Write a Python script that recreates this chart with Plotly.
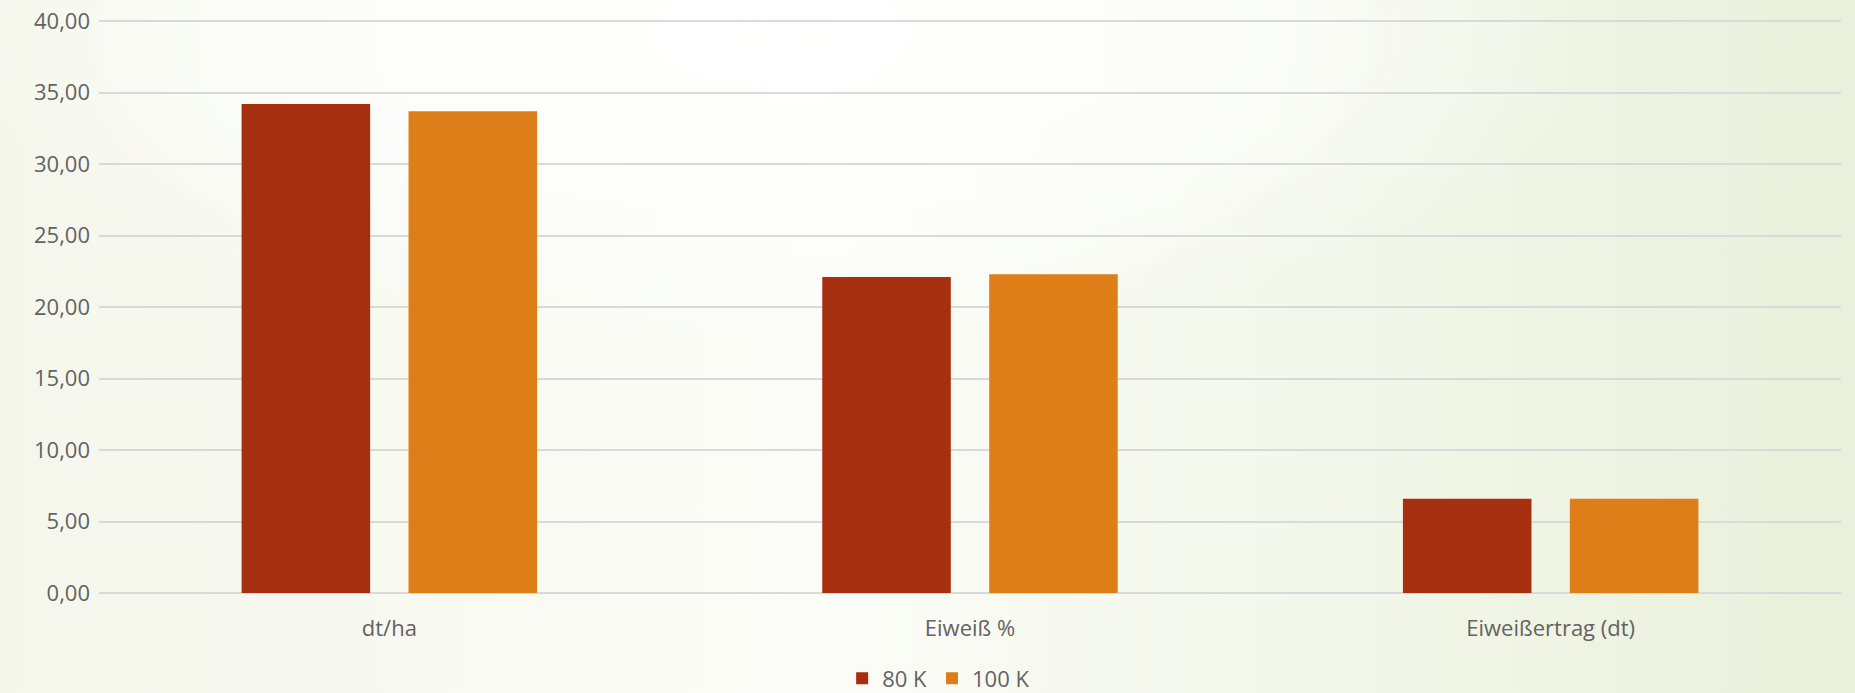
import base64
import plotly.graph_objects as go

categories = ["dt/ha", "Eiweiß %", "Eiweißertrag (dt)"]
series_names = ["80 K", "100 K"]
values_80k = [34.2, 22.1, 6.6]
values_100k = [33.7, 22.3, 6.6]
colors = ["#A62F0F", "#DE7E19"]
y_ticks = [0, 5, 10, 15, 20, 25, 30, 35, 40]

W, H = 1855, 693
ml, mr, mt, mb = 99, 14, 19, 100
pw, ph = W - ml - mr, H - mt - mb

svg = f"""<svg xmlns='http://www.w3.org/2000/svg' width='{W}' height='{H}' viewBox='0 0 {W} {H}' preserveAspectRatio='none'>
<defs>
<linearGradient id='lg' x1='0' y1='0' x2='1' y2='0'>
<stop offset='0' stop-color='#f5f7ec'/>
<stop offset='0.45' stop-color='#fbfcf7'/>
<stop offset='0.75' stop-color='#f2f6e8'/>
<stop offset='1' stop-color='#e9f0db'/>
</linearGradient>
<radialGradient id='rg' cx='0.42' cy='0.05' r='0.45' gradientUnits='objectBoundingBox'>
<stop offset='0' stop-color='#ffffff' stop-opacity='1'/>
<stop offset='0.6' stop-color='#ffffff' stop-opacity='0.6'/>
<stop offset='1' stop-color='#ffffff' stop-opacity='0'/>
</radialGradient>
</defs>
<rect x='0' y='0' width='{W}' height='{H}' fill='url(#lg)'/>
<rect x='0' y='0' width='{W}' height='{H}' fill='url(#rg)'/>
</svg>"""
bg_uri = "data:image/svg+xml;base64," + base64.b64encode(svg.encode()).decode()

font_family = "Open Sans, Lato, sans-serif"
text_color = "#636363"
fs = 22

fig = go.Figure()
for name, vals, col in zip(series_names, [values_80k, values_100k], colors):
    fig.add_trace(go.Bar(
        x=categories, y=vals, name=name,
        marker=dict(color=col, line=dict(width=0)),
    ))

fig.update_layout(
    width=W, height=H,
    margin=dict(l=ml, r=mr, t=mt, b=mb, autoexpand=False),
    paper_bgcolor="#f8f9f2",
    plot_bgcolor="rgba(0,0,0,0)",
    barmode="group",
    bargap=0.425,
    bargroupgap=0.23,
    font=dict(family=font_family, size=fs, color=text_color),
    separators=",.",
    showlegend=True,
    legend=dict(
        orientation="h", x=0.482, xanchor="center", xref="paper",
        y=-0.149, yanchor="middle",
        font=dict(size=fs, color=text_color),
        bgcolor="rgba(0,0,0,0)",
        traceorder="normal",
    ),
    images=[dict(
        source=bg_uri, xref="paper", yref="paper",
        x=-ml / pw, y=1 + mt / ph, sizex=W / pw, sizey=H / ph,
        xanchor="left", yanchor="top", sizing="stretch", layer="below",
    )],
)
fig.update_xaxes(
    showgrid=False, showline=False, zeroline=False, automargin=False,
    ticks="outside", ticklen=16, tickcolor="rgba(0,0,0,0)",
    tickfont=dict(size=fs, color=text_color),
)
fig.update_yaxes(
    range=[0, 40.15], tickvals=y_ticks, tickformat=".2f", automargin=False,
    showgrid=True, gridcolor="#d9d9d9", gridwidth=1.5,
    zeroline=True, zerolinecolor="#d9d9d9", zerolinewidth=1.5,
    showline=False, ticks="", ticklabelstandoff=8,
    tickfont=dict(size=fs, color=text_color),
)

fig.write_html(
    "out.html",
    config={"displayModeBar": False},
    post_script="document.body.style.margin='0';document.body.style.overflow='hidden';",
)
